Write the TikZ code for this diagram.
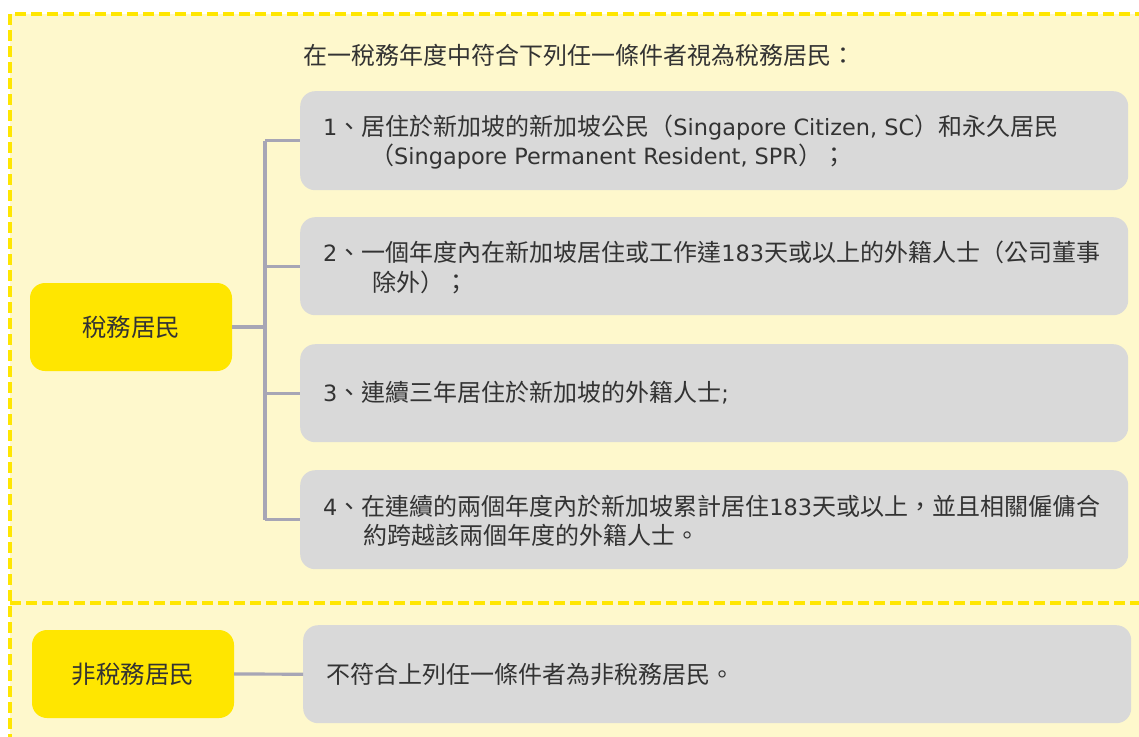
\documentclass[tikz,border=0pt]{standalone}
\usepackage{fontspec}
\setmainfont{Noto Sans CJK TC}
\newfontfamily\lat{DejaVu Sans}
\definecolor{yel}{HTML}{FFE600}
\definecolor{paleyel}{HTML}{FEF8CC}
\definecolor{gry}{HTML}{D9D9D9}
\definecolor{conncol}{HTML}{A7A6B5}
\definecolor{txtc}{HTML}{333333}
\tikzset{
  ybox/.style={fill=yel, rounded corners=15pt, draw=none, text=txtc, font=\fontsize{24.5}{28}\selectfont, minimum width=202pt, minimum height=88pt, inner sep=0},
  gbox/.style={fill=gry, rounded corners=15pt, draw=none, anchor=north west, inner sep=0},
  txt/.style={anchor=west, inner sep=0, text=txtc, font=\fontsize{24}{28}\selectfont},
  conn/.style={draw=conncol, line width=3.2pt},
  border/.style={draw=yel, line width=3.5pt, dash pattern=on 11pt off 5pt},
}
\newcommand{\lt}[1]{{\lat\fontsize{22.4}{26}\selectfont #1}}
\begin{document}
\begin{tikzpicture}[x=1pt,y=-1pt]
\useasboundingbox (0,0) rectangle (1139,736);
\clip (0,0) rectangle (1139,736);
\fill[white] (0,0) rectangle (1139,736);
\fill[paleyel] (10,14) rectangle (1160,760);
\draw[border] (10,14) rectangle (1160,760);
\draw[border] (10,603) -- (1160,603);

\node[txt] (title) at (303,55) {在一稅務年度中符合下列任一條件者視為稅務居民：};

\node[gbox, minimum width=828pt, minimum height=99pt] (b1) at (300,91) {};
\node[gbox, minimum width=828pt, minimum height=98pt] (b2) at (300,217) {};
\node[gbox, minimum width=828pt, minimum height=98pt] (b3) at (300,344) {};
\node[gbox, minimum width=828pt, minimum height=99pt] (b4) at (300,470) {};
\node[gbox, minimum width=828pt, minimum height=98pt] (b5) at (303,625) {};

\node[ybox] (res) at (131,327) {稅務居民};
\node[ybox] (nres) at (133,674) {非稅務居民};

\coordinate (sp) at (265,0);
\draw[conn] (res.east) -- (res.east -| sp);
\draw[conn] (b1.west -| sp) -- (b4.west -| sp);
\draw[conn] (b1.west -| sp) -- (b1.west);
\draw[conn] (b2.west -| sp) -- (b2.west);
\draw[conn] (b3.west -| sp) -- (b3.west);
\draw[conn] (b4.west -| sp) -- (b4.west);
\draw[conn] (nres.east) -- (b5.west);

\node[txt] (t1a) at (323,128) {\lt{1}、居住於新加坡的新加坡公民（\lt{Singapore Citizen, SC}）和永久居民};
\node[txt] (t1b) at (370,157) {（\lt{Singapore Permanent Resident, SPR}）；};
\node[txt] (t2a) at (323,252) {\lt{2}、一個年度內在新加坡居住或工作達\lt{183}天或以上的外籍人士（公司董事};
\node[txt] (t2b) at (372,282) {除外）；};
\node[txt] (t3) at (323,393) {\lt{3}、連續三年居住於新加坡的外籍人士\lt{;}};
\node[txt] (t4a) at (323,506) {\lt{4}、在連續的兩個年度內於新加坡累計居住\lt{183}天或以上，並且相關僱傭合};
\node[txt] (t4b) at (363,535) {約跨越該兩個年度的外籍人士。};
\node[txt] (t5) at (326,674) {不符合上列任一條件者為非稅務居民。};
\end{tikzpicture}
\end{document}
